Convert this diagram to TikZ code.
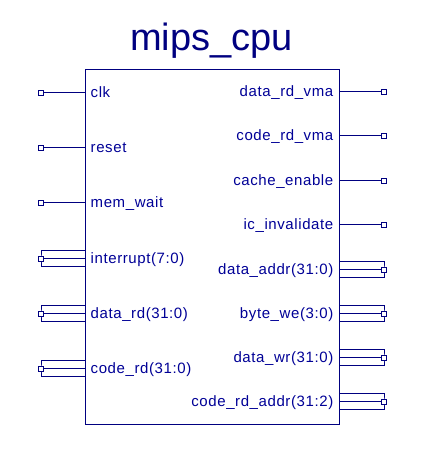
\documentclass[tikz,border=0pt]{standalone}
\usepackage{fontspec}
\setmainfont{Liberation Sans}
\usetikzlibrary{calc}
\definecolor{navy}{RGB}{0,0,128}
\definecolor{lbl}{RGB}{0,0,150}
\tikzset{
  wire/.style={draw=navy, line width=1pt},
  pinsq/.style={draw=navy, line width=0.9pt, minimum size=5pt, inner sep=0pt, fill=white},
  lab/.style={text=lbl, inner sep=0pt, font=\fontsize{15pt}{17pt}\selectfont\addfontfeature{LetterSpace=4}},
}
\begin{document}
\begin{tikzpicture}[x=1pt,y=-1pt]
\useasboundingbox (0,0) rectangle (430,461);
\begin{scope}[shift={(0.5,0.5)}]
% title
\node[text=navy, inner sep=0pt, anchor=base, font=\fontsize{38pt}{40pt}\selectfont] (title) at (211,50) {mips\_cpu};
% main block
\node[wire, minimum width=254pt, minimum height=355pt, inner sep=0pt] (cpu) at (212,246.5) {};
% ---- left single pins
\foreach \n/\y/\t in {clk/92/clk, reset/147/reset, memwait/202/mem\_wait}{
  \node[pinsq] (\n) at (40.5,\y) {};
  \draw[wire] (\n) -- (cpu.west |- \n);
  \node[lab, anchor=base west] (\n-l) at (90,\y+4.5) {\t};
}
% ---- left bus pins
\foreach \n/\y/\t in {intr/258/interrupt(7:0), drd/313/data\_rd(31:0), crd/368/code\_rd(31:0)}{
  \node[pinsq] (\n) at (40.5,\y) {};
  \draw[wire] ($(cpu.west |- \n)+(0,-8)$) -| (\n.center) |- ($(cpu.west |- \n)+(0,8)$);
  \draw[wire] (\n) -- (cpu.west |- \n);
  \node[pinsq] at (\n) {};
  \node[lab, anchor=base west] (\n-l) at (90,\y+4.5) {\t};
}
% ---- right single pins
\foreach \n/\y/\t in {drv/91/data\_rd\_vma, crv/135/code\_rd\_vma, ce/180/cache\_enable, ici/224/ic\_invalidate}{
  \node[pinsq] (\n) at (383.5,\y) {};
  \draw[wire] (\n) -- (cpu.east |- \n);
  \node[lab, anchor=base east] (\n-l) at (333,\y+4.5) {\t};
}
% ---- right bus pins
\foreach \n/\y/\t in {dad/269/data\_addr(31:0), bwe/313/byte\_we(3:0), dwr/357/data\_wr(31:0), cra/401/code\_rd\_addr(31:2)}{
  \node[pinsq] (\n) at (383.5,\y) {};
  \draw[wire] ($(cpu.east |- \n)+(0,-8)$) -| (\n.center) |- ($(cpu.east |- \n)+(0,8)$);
  \draw[wire] (\n) -- (cpu.east |- \n);
  \node[pinsq] at (\n) {};
  \node[lab, anchor=base east] (\n-l) at (333,\y+4.5) {\t};
}
\end{scope}
\end{tikzpicture}
\end{document}
